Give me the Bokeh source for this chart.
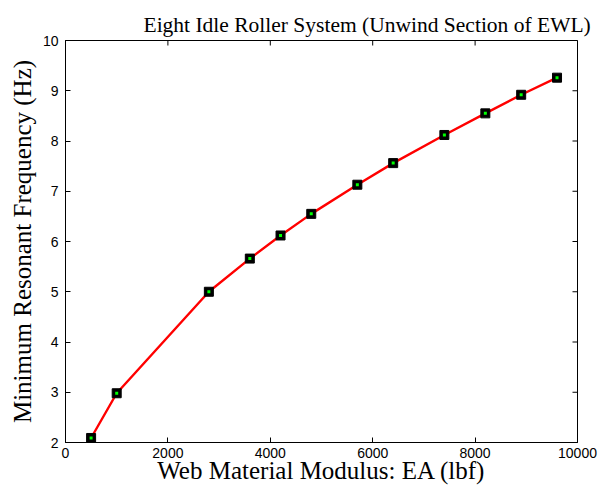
import math
from bokeh.plotting import figure
from bokeh.models import FixedTicker, Range1d
from bokeh.embed import file_html
from bokeh.resources import INLINE

# Data
ea_values = [500, 1000, 2800, 3600, 4200, 4800, 5700, 6400, 7400, 8200, 8900, 9600]
freq_values = [2.09, 2.98, 5.00, 5.66, 6.12, 6.55, 7.13, 7.56, 8.12, 8.55, 8.92, 9.26]
x_ticks = [0, 2000, 4000, 6000, 8000, 10000]
y_ticks = [2, 3, 4, 5, 6, 7, 8, 9, 10]
x_min, x_max = 0, 10000
y_min, y_max = 2, 10

title_text = "Eight Idle Roller System (Unwind Section of EWL)"
x_label = "Web Material Modulus: EA (lbf)"
y_label = "Minimum Resonant Frequency (Hz)"

p = figure(width=599, height=491, output_backend="svg", toolbar_location=None,
           x_range=Range1d(x_min, x_max), y_range=Range1d(y_min, y_max),
           x_axis_label=x_label, y_axis_label=y_label,
           min_border_left=65, min_border_right=22, min_border_top=40, min_border_bottom=49)

p.background_fill_color = "white"
p.border_fill_color = "white"
p.outline_line_color = "black"
p.outline_line_width = 1
p.xgrid.visible = False
p.ygrid.visible = False

p.title.text = title_text
p.title.text_font = "Liberation Serif"
p.title.text_font_size = "21.5px"
p.title.text_font_style = "normal"
p.title.text_color = "black"
p.title.align = "left"
p.title.vertical_align = "top"
p.title.offset = 78
p.title.standoff = 4
p.title.text_line_height = 0.9

serif = "Liberation Serif"
sans = "Liberation Sans"

for ax, ticks in ((p.xaxis[0], x_ticks), (p.yaxis[0], y_ticks)):
    ax.ticker = FixedTicker(ticks=ticks)
    ax.major_tick_in = 5
    ax.major_tick_out = 0
    ax.minor_tick_line_color = None
    ax.axis_line_color = "black"
    ax.major_tick_line_color = "black"
    ax.major_label_text_font = sans
    ax.major_label_text_font_size = "14px"
    ax.major_label_text_color = "black"
    ax.axis_label_text_font = serif
    ax.axis_label_text_font_size = "25px"
    ax.axis_label_text_font_style = "normal"
    ax.axis_label_text_color = "black"

p.xaxis[0].major_label_standoff = 5
p.xaxis[0].axis_label_standoff = -4
p.yaxis[0].major_label_standoff = 7
p.yaxis[0].axis_label_standoff = 4

# Inward tick marks on the top and right edges (mirrored box, MATLAB style)
p.scatter(x_ticks, [y_max] * len(x_ticks), marker="dash", angle=math.pi / 2,
          size=10, line_color="black", line_width=1)
p.scatter([x_max] * len(y_ticks), y_ticks, marker="dash", angle=0,
          size=10, line_color="black", line_width=1)

p.line(ea_values, freq_values, line_color="#ff0000", line_width=2.4)
p.scatter(ea_values, freq_values, marker="square", size=9, fill_color="black", line_color="black")
p.scatter(ea_values, freq_values, marker="square", size=3, fill_color="#00ff00", line_color=None)

open("out.html", "w").write(file_html(p, INLINE))
